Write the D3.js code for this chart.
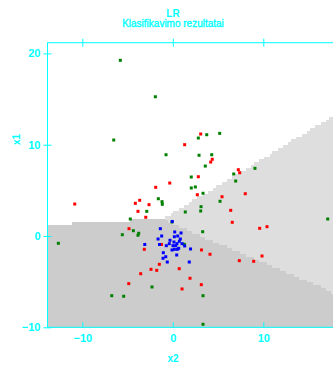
<!DOCTYPE html>
<html>
<head>
<meta charset="utf-8">
<script src="https://cdn.jsdelivr.net/npm/d3@7"></script>
<style>
    body { margin: 0; background: #ffffff; }
    svg text { font-family: "Liberation Sans", Arial, sans-serif; fill: #00ffff; }
</style>
</head>
<body>
<script>
const greenX2 = [-5.80, -1.93, -6.53, 3.75, 5.18, 2.82, -0.75, 2.90, 4.30, 3.59, 6.73, 9.08, 6.95, 2.04,
    2.04, 2.49, 3.34, 5.22, -1.60, -1.19, -1.16, -2.88, -4.70, 1.38, 3.12, 3.08, 17.12, -0.09, -4.36,
    -3.77, -3.85, -5.58, 3.30, 1.27, -12.65, -2.30, -6.75, -5.43, 3.34, 3.34];
const greenX1 = [19.24, 15.25, 10.51, 11.09, 11.24, 10.73, 8.90, 8.84, 8.90, 7.66, 6.79, 7.41, 6.02, 6.46,
    5.26, 5.37, 4.68, 3.80, 4.08, 3.76, 3.47, 2.70, 1.86, 2.63, 3.21, 2.74, 1.86, 1.53, 0.58,
    0.30, 0.08, 0.14, 0.47, -0.91, -0.80, -5.58, -6.54, -6.60, -6.54, -9.67];

const redX2 = [3.08, 1.31, 4.36, 4.19, 7.24, 7.39, 2.82, -0.34, -1.89, 2.71, 8.01, 5.44, -10.84, -3.66,
    -4.14, -2.63, -3.85, -2.99, 6.40, 6.57, 9.60, 10.41, -4.84, -1.25, -3.15, 3.17, 4.11, 7.35, 8.94,
    9.86, -1.49, -2.41, -1.78, 0.71, -3.55, 1.90, -4.87, 3.15, 1.02];
const redX1 = [11.17, 10.00, 8.40, 8.10, 7.26, 6.93, 6.49, 5.80, 5.33, 4.52, 4.63, 4.30, 3.50, 3.91,
    3.58, 3.43, 2.70, 2.05, 2.81, 1.50, 0.84, 1.02, 0.80, -0.93, -1.46, -1.53, -2.00, -2.70, -2.77,
    -2.19, -3.10, -3.65, -3.76, -3.58, -4.13, -4.63, -5.22, -5.33, -5.80];

const blueX2 = [-0.06, -1.38, 0.21, 0.91, -1.23, -1.63, -0.31, 0.54, 0.17, 0.83, 0.72, 0.13, -0.39, -0.72,
    0.46, 1.02, 0.02, 0.32, 1.31, -0.09, 0.17, 0.50, 0.65, 1.96, -1.05, -1.08, 0.43, -0.61, 1.82,
    -3.10, -1.47, -0.78];
const blueX1 = [1.59, 0.80, 0.44, 0.33, 0.00, -0.33, -0.47, 0.00, -0.08, -0.33, -0.58, -0.66, -0.84, -1.06,
    -0.84, -0.84, -1.06, -1.06, -1.09, -1.53, -1.46, -1.46, -1.35, -1.42, -1.83, -2.44, -2.08, -2.85, -2.85,
    -0.93, -0.93, -2.27];

// Linear discriminants of the three decision regions (estimated from the boundaries)
const regionCoefX2 = [-0.0476, 0.229, 0];
const regionCoefX1 = [1, 0.539, 0];
const regionCoefC = [-1.911, -0.755, 0];
const regionFill = ["#ffffff", "#dedede", "#cccccc"];

const X_TICKS = [-10, 0, 10];
const Y_TICKS = [-10, 0, 10, 20];

const WIDTH = 333;
const HEIGHT = 366;
const GRID_NX = 110;
const GRID_NY = 100;
const POINT_SIZE = 3;
const AXIS_COLOR = "#00ffff";

const xScale = d3.scaleLinear().domain([-13.85, 18.7]).range([47.5, 342]);
const yScale = d3.scaleLinear().domain([-10, 21.17]).range([327.3, 42.7]);

const svg = d3.select("body").append("svg")
    .attr("width", WIDTH)
    .attr("height", HEIGHT);

// Decision regions, evaluated on a grid like the original image plot
const [x0, x1] = xScale.domain();
const [y0, y1] = yScale.domain();
const cells = [];
for (let i = 0; i < GRID_NX; i += 1) {
    for (let j = 0; j < GRID_NY; j += 1) {
        const cx = x0 + (i + 0.5) * (x1 - x0) / GRID_NX;
        const cy = y0 + (j + 0.5) * (y1 - y0) / GRID_NY;
        const scores = regionFill.map((_f, k) => regionCoefX2[k] * cx + regionCoefX1[k] * cy + regionCoefC[k]);
        const cls = d3.maxIndex(scores);
        if (cls === 0) continue;
        cells.push({ i, j, cls });
    }
}

svg.append("g")
    .attr("shape-rendering", "crispEdges")
    .selectAll("rect")
    .data(cells)
    .join("rect")
    .attr("x", d => xScale(x0 + d.i * (x1 - x0) / GRID_NX))
    .attr("y", d => yScale(y0 + (d.j + 1) * (y1 - y0) / GRID_NY))
    .attr("width", (xScale(x1) - xScale(x0)) / GRID_NX + 0.6)
    .attr("height", (yScale(y0) - yScale(y1)) / GRID_NY + 0.6)
    .attr("fill", d => regionFill[d.cls]);

// Points
function drawPoints(xs, ys, color) {
    svg.append("g")
        .selectAll("rect")
        .data(xs.map((x, idx) => [x, ys[idx]]))
        .join("rect")
        .attr("x", d => xScale(d[0]) - POINT_SIZE / 2)
        .attr("y", d => yScale(d[1]) - POINT_SIZE / 2)
        .attr("width", POINT_SIZE)
        .attr("height", POINT_SIZE)
        .attr("fill", color);
}
drawPoints(greenX2, greenX1, "#008000");
drawPoints(redX2, redX1, "#ff0000");
drawPoints(blueX2, blueX1, "#0000ff");

// Frame
svg.append("rect")
    .attr("x", xScale(x0))
    .attr("y", yScale(y1))
    .attr("width", xScale(x1) - xScale(x0))
    .attr("height", yScale(y0) - yScale(y1))
    .attr("fill", "none")
    .attr("stroke", AXIS_COLOR)
    .attr("stroke-width", 1);

function styleAxis(g) {
    g.select(".domain").remove();
    g.selectAll("line").attr("stroke", AXIS_COLOR);
    g.selectAll("text")
        .attr("fill", AXIS_COLOR)
        .style("font-family", "\"Liberation Sans\", Arial, sans-serif")
        .style("font-size", "11px")
        .style("font-weight", "bold");
}

// Bottom axis: ticks point inward
svg.append("g")
    .attr("transform", `translate(0, ${yScale(y0)})`)
    .call(d3.axisBottom(xScale).tickValues(X_TICKS).tickSize(-5).tickPadding(7))
    .call(styleAxis);

// Top axis: ticks cross the frame, no labels
svg.append("g")
    .attr("transform", `translate(0, ${yScale(y1)})`)
    .call(d3.axisTop(xScale).tickValues(X_TICKS).tickSize(4).tickFormat(""))
    .call(styleAxis)
    .selectAll("line").attr("y1", 4);

// Left axis: ticks cross the frame
svg.append("g")
    .attr("transform", `translate(${xScale(x0)}, 0)`)
    .call(d3.axisLeft(yScale).tickValues(Y_TICKS).tickSize(4).tickPadding(3))
    .call(styleAxis)
    .selectAll("line").attr("x1", 4);

// Titles
svg.append("text")
    .attr("x", 173).attr("y", 16.7)
    .attr("text-anchor", "middle")
    .style("font-size", "10px").style("font-weight", "bold")
    .text("LR");
svg.append("text")
    .attr("x", 173).attr("y", 27.3)
    .attr("text-anchor", "middle")
    .style("font-size", "10px")
    .style("stroke", AXIS_COLOR).style("stroke-width", 0.35)
    .text("Klasifikavimo rezultatai");
svg.append("text")
    .attr("x", 173).attr("y", 361.5)
    .attr("text-anchor", "middle")
    .style("font-size", "10px").style("font-weight", "bold")
    .text("x2");
svg.append("text")
    .attr("transform", "translate(20, 139.5) rotate(-90)")
    .attr("text-anchor", "middle")
    .style("font-size", "10px").style("font-weight", "bold")
    .text("x1");
</script>
</body>
</html>
